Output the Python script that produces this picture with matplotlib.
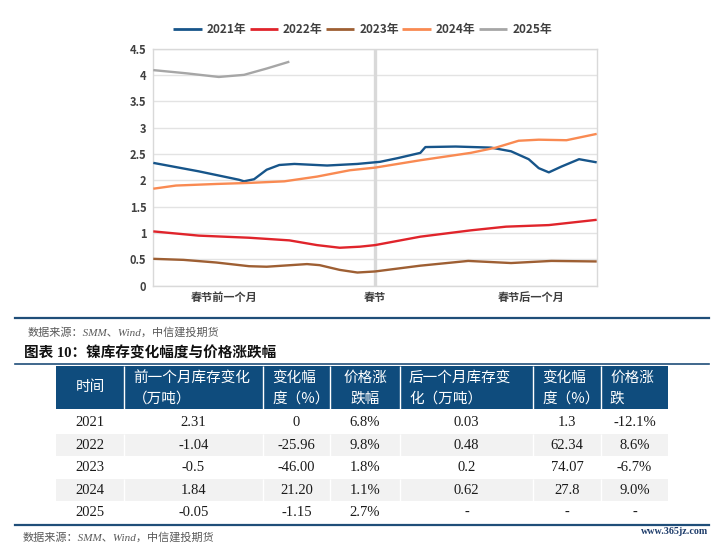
import matplotlib
matplotlib.use('Agg')
import matplotlib.pyplot as plt
from matplotlib.patches import Rectangle

# ---------------- data (chart) ----------------
series_names = ['2021年', '2022年', '2023年', '2024年', '2025年']
series_colors = ['#17558a', '#e0242b', '#9e5f33', '#f98a52', '#a6a6a6']

days_2021 = [-44, -35, -27, -26, -24, -21.5, -19, -16, -9.5, -3.5, 1, 4.5, 9, 10, 16, 23, 27, 30.5, 32.5, 34.5, 37, 40.5, 44]
vals_2021 = [2.33, 2.17, 2.01, 1.98, 2.02, 2.20, 2.29, 2.31, 2.28, 2.31, 2.35, 2.42, 2.52, 2.63, 2.64, 2.62, 2.55, 2.40, 2.23, 2.15, 2.26, 2.40, 2.34]

days_2022 = [-44, -35, -25, -17, -11.5, -7, -3, 0, 9, 19, 26, 34.5, 44]
vals_2022 = [1.03, 0.95, 0.91, 0.86, 0.77, 0.72, 0.74, 0.77, 0.93, 1.05, 1.12, 1.15, 1.25]

days_2023 = [-44, -38, -31.5, -25, -21.5, -13.5, -11, -7, -3.5, 0, 9, 18.5, 27, 35, 44]
vals_2023 = [0.51, 0.49, 0.44, 0.37, 0.36, 0.41, 0.39, 0.30, 0.25, 0.27, 0.38, 0.47, 0.43, 0.47, 0.46]

days_2024 = [-44, -39.5, -31.5, -25, -18, -11.5, -5, 0, 9, 19, 24, 28.5, 32.5, 38, 44]
vals_2024 = [1.84, 1.90, 1.93, 1.95, 1.98, 2.07, 2.19, 2.24, 2.38, 2.52, 2.62, 2.75, 2.77, 2.76, 2.88]

days_2025 = [-44, -37.5, -31, -26, -21.5, -17]
vals_2025 = [4.09, 4.03, 3.96, 4.00, 4.12, 4.25]

xtick_pos = [-30, 0, 31]
xtick_labels = ['春节前一个月', '春节', '春节后一个月']
ytick_vals = [0, 0.5, 1, 1.5, 2, 2.5, 3, 3.5, 4, 4.5]
ytick_labels = ['0', '0.5', '1', '1.5', '2', '2.5', '3', '3.5', '4', '4.5']

# ---------------- data (table) ----------------
header_lines = [["时间"], ["前一个月库存变化", "（万吨）"], ["变化幅", "度（%）"], ["价格涨", "跌幅"],
                ["后一个月库存变", "化（万吨）"], ["变化幅", "度（%）"], ["价格涨", "跌"]]
tbl_years = ['2021', '2022', '2023', '2024', '2025']
pre_change = ['2.31', '-1.04', '-0.5', '1.84', '-0.05']
pre_pct = ['0', '-25.96', '-46.00', '21.20', '-1.15']
pre_price = ['6.8%', '9.8%', '1.8%', '1.1%', '2.7%']
post_change = ['0.03', '0.48', '0.2', '0.62', '-']
post_pct = ['1.3', '62.34', '74.07', '27.8', '-']
post_price = ['-12.1%', '8.6%', '-6.7%', '9.0%', '-']

title_text = '图表 10：镍库存变化幅度与价格涨跌幅'
source_text = '数据来源：SMM、Wind，中信建投期货'
watermark = 'www.365jz.com'

# ---------------- figure ----------------
W, H = 718, 549
fig = plt.figure(figsize=(W / 100, H / 100), dpi=100)
fig.patch.set_facecolor('white')

bg = fig.add_axes([0, 0, 1, 1])
bg.set_xlim(0, W)
bg.set_ylim(H, 0)
bg.axis('off')

ax_l, ax_r, ax_t, ax_b = 153.3, 596.7, 48.5, 285.7
ax = fig.add_axes([ax_l / W, 1 - ax_b / H, (ax_r - ax_l) / W, (ax_b - ax_t) / H])

CJK = 'Noto Sans CJK SC'
txt_col = '#404040'

ax.set_xlim(-44, 44)
ax.set_ylim(0, 4.5)
ax.set_yticks(ytick_vals)
ax.set_yticklabels(ytick_labels, family=CJK, weight='bold', fontsize=8, color=txt_col)
ax.set_xticks(xtick_pos)
ax.set_xticklabels(xtick_labels, family=CJK, weight='bold', fontsize=8, color=txt_col)
ax.tick_params(axis='both', length=0)
ax.tick_params(axis='y', pad=5)
ax.tick_params(axis='x', pad=4)
ax.grid(axis='y', color='#e3e3e3', lw=1.0, zorder=0)
ax.set_axisbelow(True)
for s in ax.spines.values():
    s.set_color('#d9d9d9')
    s.set_linewidth(1.0)
ax.axvline(0, color='#d9d9d9', lw=2.4, zorder=1)

all_days = [days_2021, days_2022, days_2023, days_2024, days_2025]
all_vals = [vals_2021, vals_2022, vals_2023, vals_2024, vals_2025]
for d, v, name, c in zip(all_days, all_vals, series_names, series_colors):
    ax.plot(d, v, color=c, lw=1.7, label=name, zorder=3,
            solid_joinstyle='round', solid_capstyle='butt')

leg = fig.legend(loc='center', bbox_to_anchor=(362.5 / W, 1 - 30 / H), ncol=5,
                 frameon=False, prop={'family': CJK, 'weight': 'bold', 'size': 8.5},
                 handlelength=2.4, handletextpad=0.42, columnspacing=0.3, borderpad=0)
for t in leg.get_texts():
    t.set_color(txt_col)
for l in leg.get_lines():
    l.set_linewidth(2.0)

# ---------------- texts and table ----------------
line_col = '#1f4e79'
bg.plot([15, 709], [318, 318], color=line_col, lw=1.6)
bg.text(28, 332, source_text, family=['Liberation Serif', CJK], style='italic',
        fontsize=8, color='#595959', va='center', ha='left')
bg.text(24, 353, title_text, family=['Liberation Serif', CJK], weight='bold',
        fontsize=10.5, color='#111111', va='center', ha='left')
bg.plot([15, 709], [364, 364], color=line_col, lw=1.2)

col_edges = [56, 124, 263, 330, 400, 533, 601, 668]
head_top, head_bot = 366, 409
bg.add_patch(Rectangle((col_edges[0], head_top), col_edges[-1] - col_edges[0],
                       head_bot - head_top, color='#0f4c7d', lw=0))
bg.vlines(col_edges[1:-1], head_top, head_bot, color='white', lw=1.0)

aligns = ['center', 'left', 'left', 'center', 'left', 'left', 'left']
for j, lines in enumerate(header_lines):
    x0, x1 = col_edges[j], col_edges[j + 1]
    if len(lines) == 1:
        ys = [387.5]
    else:
        ys = [378, 399]
    for ln, yy in zip(lines, ys):
        if aligns[j] == 'center':
            bg.text((x0 + x1) / 2, yy, ln, family=CJK, fontsize=10.5, color='white',
                    ha='center', va='center')
        else:
            bg.text(x0 + 9, yy, ln, family=CJK, fontsize=10.5, color='white',
                    ha='left', va='center')

columns = [tbl_years, pre_change, pre_pct, pre_price, post_change, post_pct, post_price]
row_top0, row_h = 411, 22.5
for i in range(len(tbl_years)):
    top = row_top0 + i * row_h
    if i % 2 == 1:
        bg.add_patch(Rectangle((col_edges[0], top), col_edges[-1] - col_edges[0],
                               row_h, color='#f2f2f2', lw=0))
        bg.vlines(col_edges[1:-1], top, top + row_h, color='white', lw=1.0)
    for j, col in enumerate(columns):
        bg.text((col_edges[j] + col_edges[j + 1]) / 2, top + row_h / 2 + 0.5, col[i],
                family='Liberation Serif', fontsize=10.5, color='#1a1a1a',
                ha='center', va='center')

bg.plot([15, 709], [524.5, 524.5], color=line_col, lw=1.6)
bg.text(23, 537, source_text, family=['Liberation Serif', CJK], style='italic',
        fontsize=8, color='#595959', va='center', ha='left')
bg.text(708, 531, watermark, family='Liberation Serif', weight='bold',
        fontsize=7.2, color='#1f3d6b', va='center', ha='right')

fig.savefig('out.png', dpi=100)
